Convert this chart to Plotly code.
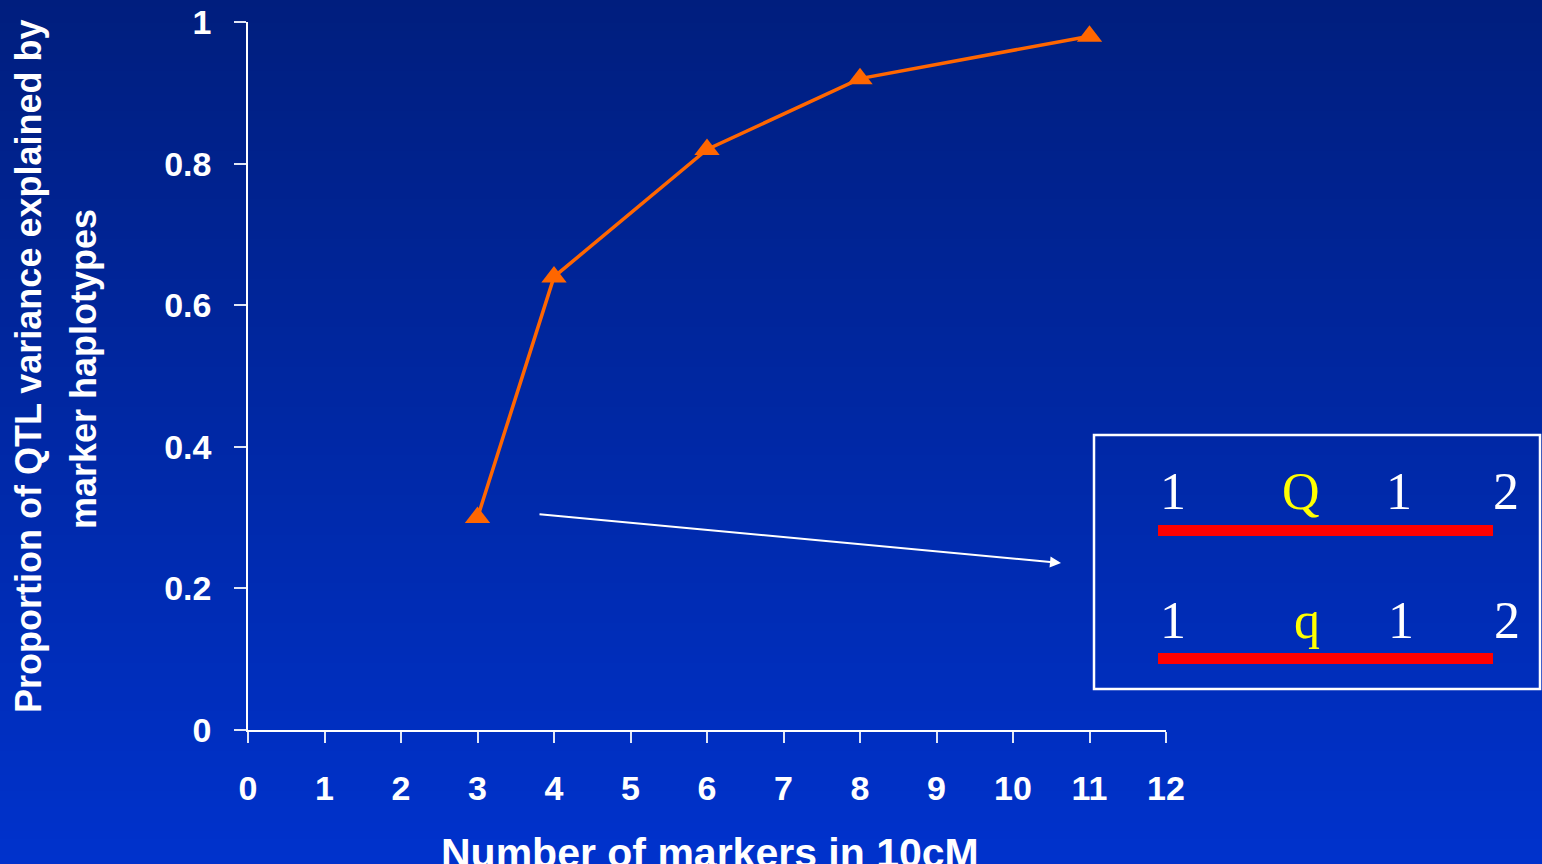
import plotly.graph_objects as go

# Proportion of QTL variance explained vs. marker density
markers = [3, 4, 6, 8, 11]
proportion = [0.30, 0.64, 0.82, 0.92, 0.98]

x_ticks = list(range(0, 13))
y_ticks = [0, 0.2, 0.4, 0.6, 0.8, 1]
y_tick_text = ["0", "0.2", "0.4", "0.6", "0.8", "1"]

# Haplotype inset labels
hap_top = ["1", "Q", "1", "2"]
hap_bottom = ["1", "q", "1", "2"]
hap_colors = ["white", "#FFFF00", "white", "white"]

W, H = 1542, 864
L, R, T, B = 248, 376, 22, 134
PW, PH = W - L - R, H - T - B


def px(xp):
    return (xp - L) / PW


def py(yp):
    return (H - B - yp) / PH


SANS = "Liberation Sans, Arial, sans-serif"
SERIF = "Liberation Serif, Times New Roman, serif"
ORANGE = "#FF6600"

fig = go.Figure()
fig.add_trace(go.Scatter(
    x=markers, y=proportion, mode="lines+markers",
    line=dict(color=ORANGE, width=3.5),
    marker=dict(symbol="triangle-up", size=22, color=ORANGE),
    cliponaxis=False, showlegend=False,
))

shapes = []
# vertical blue gradient behind everything
n_bands = 108
top_rgb = (0, 30, 126)
bot_rgb = (0, 50, 204)
for i in range(n_bands):
    f = i / (n_bands - 1)
    c = tuple(round(a + (b - a) * f) for a, b in zip(top_rgb, bot_rgb))
    y0 = i * H / n_bands - 1
    y1 = (i + 1) * H / n_bands + 1
    shapes.append(dict(
        type="rect", xref="paper", yref="paper", layer="below",
        x0=px(-2), x1=px(W + 2), y0=py(y1), y1=py(y0),
        fillcolor="rgb(%d,%d,%d)" % c, line=dict(width=0),
    ))

# inset frame and chromosome bars
shapes.append(dict(type="rect", xref="paper", yref="paper",
                   x0=px(1094), x1=px(1540), y0=py(689), y1=py(435),
                   line=dict(color="white", width=2.5), fillcolor="rgba(0,0,0,0)"))
for y_top, y_bot in [(525, 536), (653, 664)]:
    shapes.append(dict(type="rect", xref="paper", yref="paper",
                       x0=px(1158), x1=px(1493), y0=py(y_bot), y1=py(y_top),
                       fillcolor="#FF0000", line=dict(width=0)))

annotations = []
top_x = [1173, 1301, 1399, 1506]
bot_x = [1173, 1307, 1401, 1507]
for labels, xs, yc in [(hap_top, top_x, 492), (hap_bottom, bot_x, 620)]:
    for lab, xc, col in zip(labels, xs, hap_colors):
        annotations.append(dict(
            text=lab, xref="paper", yref="paper", x=px(xc), y=py(yc),
            xanchor="center", yanchor="middle", showarrow=False,
            font=dict(family=SERIF, size=52, color=col),
        ))

# pointer from the first point towards the inset
annotations.append(dict(
    xref="paper", yref="paper", axref="pixel", ayref="pixel",
    x=px(1061), y=py(563), ax=538 - 1061, ay=514 - 563,
    text="", showarrow=True, arrowhead=2, arrowsize=1.1, arrowwidth=2,
    arrowcolor="white",
))

# axis titles
annotations.append(dict(
    text="<b>Number of markers in 10cM</b>", xref="paper", yref="paper",
    x=px(710), y=py(853), xanchor="center", yanchor="middle", showarrow=False,
    font=dict(family=SANS, size=41, color="white"),
))
annotations.append(dict(
    text="<b>Proportion of QTL variance explained by</b>", xref="paper", yref="paper",
    x=px(28), y=py(367), xanchor="center", yanchor="middle", textangle=-90,
    showarrow=False, font=dict(family=SANS, size=36, color="white"),
))
annotations.append(dict(
    text="<b>marker haplotypes</b>", xref="paper", yref="paper",
    x=px(84), y=py(369), xanchor="center", yanchor="middle", textangle=-90,
    showarrow=False, font=dict(family=SANS, size=36, color="white"),
))

axis_common = dict(
    showgrid=False, zeroline=False, showline=True, linecolor="white", linewidth=1.5,
    ticks="outside", tickcolor="#E0E6F5", tickwidth=1.5, automargin=False,
    tickfont=dict(family=SANS, size=34, color="white", weight="bold"),
)

fig.update_layout(
    width=W, height=H,
    margin=dict(l=L, r=R, t=T, b=B, pad=0, autoexpand=False),
    paper_bgcolor="#0028A8", plot_bgcolor="rgba(0,0,0,0)",
    xaxis=dict(range=[0, 12], tickvals=x_ticks, ticklen=11,
               ticklabelstandoff=16, **axis_common),
    yaxis=dict(range=[0, 1], tickvals=y_ticks, ticktext=y_tick_text, ticklen=12,
               ticklabelstandoff=16, **axis_common),
    shapes=shapes, annotations=annotations,
)

fig.write_html("out.html")
